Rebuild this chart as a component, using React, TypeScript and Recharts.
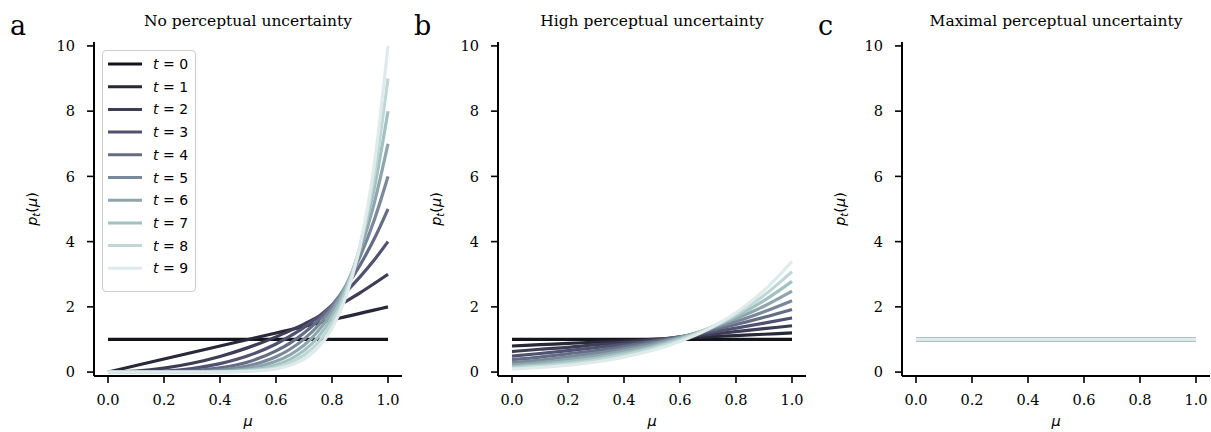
import React from 'react';
import { LineChart, Line, XAxis, YAxis, Legend } from 'recharts';

// ---------- data ----------
const tLabels = ['t = 0', 't = 1', 't = 2', 't = 3', 't = 4', 't = 5', 't = 6', 't = 7', 't = 8', 't = 9'];
const lineColors = ['#14141c', '#282838', '#3d3d55', '#515171', '#656d85', '#7a899a', '#8ea5ae', '#a2c2c2', '#bfd7d6', '#dfebeb'];

const panelTitles = ['No perceptual uncertainty', 'High perceptual uncertainty', 'Maximal perceptual uncertainty'];
const panelLetters = ['a', 'b', 'c'];
const xTicks = [0, 0.2, 0.4, 0.6, 0.8, 1.0];
const yTicks = [0, 2, 4, 6, 8, 10];

// panel a: no perceptual uncertainty
const muA = [0, 0.1, 0.2, 0.3, 0.4, 0.5, 0.6, 0.65, 0.7, 0.75, 0.8, 0.85, 0.9, 0.95, 1.0];
const noUncertainty: number[][] = [
  [1, 1, 1, 1, 1, 1, 1, 1, 1, 1, 1, 1, 1, 1, 1],
  [0, 0.2, 0.4, 0.6, 0.8, 1.0, 1.2, 1.3, 1.4, 1.5, 1.6, 1.7, 1.8, 1.9, 2.0],
  [0, 0.03, 0.12, 0.27, 0.48, 0.75, 1.08, 1.27, 1.47, 1.69, 1.92, 2.17, 2.43, 2.71, 3.0],
  [0, 0.004, 0.03, 0.11, 0.26, 0.5, 0.86, 1.1, 1.37, 1.69, 2.05, 2.46, 2.92, 3.43, 4.0],
  [0, 0, 0.01, 0.04, 0.13, 0.31, 0.65, 0.89, 1.2, 1.58, 2.05, 2.61, 3.28, 4.07, 5.0],
  [0, 0, 0, 0.01, 0.06, 0.19, 0.47, 0.7, 1.01, 1.42, 1.97, 2.66, 3.54, 4.64, 6.0],
  [0, 0, 0, 0.005, 0.03, 0.11, 0.33, 0.53, 0.82, 1.25, 1.84, 2.64, 3.72, 5.15, 7.0],
  [0, 0, 0, 0, 0.01, 0.06, 0.22, 0.39, 0.66, 1.07, 1.68, 2.56, 3.83, 5.59, 8.0],
  [0, 0, 0, 0, 0.01, 0.04, 0.15, 0.29, 0.52, 0.9, 1.51, 2.45, 3.87, 5.97, 9.0],
  [0, 0, 0, 0, 0, 0.02, 0.1, 0.21, 0.4, 0.75, 1.34, 2.32, 3.87, 6.3, 10.0],
];

// panel b: high perceptual uncertainty
const muB = [0, 0.1, 0.2, 0.3, 0.4, 0.5, 0.6, 0.7, 0.8, 0.9, 1.0];
const highUncertainty: number[][] = [
  [1, 1, 1, 1, 1, 1, 1, 1, 1, 1, 1],
  [0.8, 0.84, 0.88, 0.92, 0.96, 1.0, 1.04, 1.08, 1.12, 1.16, 1.2],
  [0.63, 0.7, 0.76, 0.84, 0.91, 0.99, 1.07, 1.15, 1.24, 1.33, 1.42],
  [0.49, 0.57, 0.66, 0.75, 0.85, 0.96, 1.08, 1.21, 1.35, 1.5, 1.66],
  [0.38, 0.46, 0.56, 0.66, 0.79, 0.93, 1.08, 1.26, 1.46, 1.68, 1.92],
  [0.29, 0.37, 0.47, 0.58, 0.72, 0.88, 1.07, 1.3, 1.55, 1.85, 2.19],
  [0.22, 0.29, 0.39, 0.5, 0.65, 0.83, 1.05, 1.32, 1.64, 2.02, 2.48],
  [0.16, 0.23, 0.32, 0.43, 0.58, 0.77, 1.02, 1.33, 1.71, 2.19, 2.78],
  [0.12, 0.18, 0.26, 0.37, 0.52, 0.72, 0.98, 1.33, 1.77, 2.35, 3.08],
  [0.09, 0.14, 0.21, 0.31, 0.46, 0.66, 0.94, 1.31, 1.82, 2.5, 3.39],
];

// panel c: maximal perceptual uncertainty (flat band around 1)
const muC = [0, 0.5, 1.0];
const maximalUncertainty: number[][] = [
  [1, 1, 1], [1, 1, 1], [1, 1, 1], [1, 1, 1], [1, 1, 1],
  [1.03, 1.03, 1.03], [0.97, 0.97, 0.97], [1.02, 1.02, 1.02], [0.99, 0.99, 0.99], [1, 1, 1],
];

// ---------- layout ----------
const PANEL_W = 403;
const H = 432;
const PLOT_TOP = 42;
const YAXIS_W = 94;
const FONT_SERIF = 'DejaVu Serif';
const FONT_SANS = 'DejaVu Sans';
const TICK_FS = 14.5;

function buildRows(mu: number[], series: number[][]) {
  return mu.map((m, i) => {
    const row: Record<string, number> = { mu: m };
    series.forEach((s, t) => {
      row['t' + t] = s[i];
    });
    return row;
  });
}

const renderLegend = (props: any) => {
  const payload: any[] = (props && props.payload) || [];
  const items = tLabels.map((lab, i) => {
    const p = payload.find((q) => q.value === lab);
    return { label: lab, color: p ? p.color : lineColors[i] };
  });
  return (
    <div
      style={{
        width: 94,
        height: 242,
        boxSizing: 'border-box',
        border: '1px solid #cccccc',
        borderRadius: 4,
        background: 'rgba(255,255,255,0.8)',
        position: 'relative',
      }}
    >
      <svg width={94} height={242} style={{ position: 'absolute', left: -1, top: -1 }}>
        {items.map((it, i) => {
          const y = 14 + i * 22.7;
          const rest = it.label.slice(1);
          return (
            <g key={it.label}>
              <line x1={6} x2={40} y1={y} y2={y} stroke={it.color} strokeWidth={3} />
              <text x={51} y={y} dy="0.36em" fontFamily={FONT_SANS} fontSize={14} fill="#000">
                <tspan fontStyle="italic">t</tspan>
                {rest}
              </text>
            </g>
          );
        })}
      </svg>
    </div>
  );
};

function Panel({ left, mu, series, showLegend }: { left: number; mu: number[]; series: number[][]; showLegend: boolean }) {
  const data = buildRows(mu, series);
  return (
    <div style={{ position: 'absolute', left, top: 0 }}>
      <LineChart width={PANEL_W} height={H} data={data} margin={{ top: PLOT_TOP, right: 1, bottom: 0, left: 0 }}>
        <XAxis
          dataKey="mu"
          type="number"
          domain={[-0.05, 1.05]}
          ticks={xTicks}
          allowDataOverflow
          tickFormatter={(v: number) => v.toFixed(1)}
          height={56}
          axisLine={{ stroke: '#000', strokeWidth: 2 }}
          tickLine={{ stroke: '#000', strokeWidth: 1.6 }}
          tickSize={7}
          tickMargin={12}
          tick={{ fill: '#000', fontSize: TICK_FS, fontFamily: FONT_SERIF }}
        />
        <YAxis
          type="number"
          domain={[-0.12, 10.12]}
          ticks={yTicks}
          allowDataOverflow
          width={YAXIS_W}
          axisLine={{ stroke: '#000', strokeWidth: 2 }}
          tickLine={{ stroke: '#000', strokeWidth: 1.6 }}
          tickSize={7}
          tickMargin={12}
          tick={{ fill: '#000', fontSize: TICK_FS, fontFamily: FONT_SERIF }}
        />
        {series.map((_, t) => (
          <Line
            key={t}
            dataKey={'t' + t}
            name={tLabels[t]}
            stroke={lineColors[t]}
            strokeWidth={3.2}
            dot={false}
            activeDot={false}
            type="monotone"
            isAnimationActive={false}
          />
        ))}
        {showLegend && (
          <Legend
            layout="vertical"
            align="center"
            verticalAlign="middle"
            wrapperStyle={{ left: 102, top: 50, width: 94, height: 242 }}
            content={renderLegend}
          />
        )}
      </LineChart>
    </div>
  );
}

export default function App() {
  const panels = [
    { mu: muA, series: noUncertainty },
    { mu: muB, series: highUncertainty },
    { mu: muC, series: maximalUncertainty },
  ];
  return (
    <div style={{ position: 'absolute', left: 0, top: 0, width: 1211, height: H, background: '#fff', overflow: 'hidden' }}>
      {panels.map((p, i) => (
        <Panel key={i} left={i * 404} mu={p.mu} series={p.series} showLegend={i === 0} />
      ))}
      <svg width={1211} height={H} style={{ position: 'absolute', left: 0, top: 0, pointerEvents: 'none' }}>
        {panels.map((_, i) => {
          const off = i * 404;
          const cx = off + YAXIS_W + 154;
          return (
            <g key={i}>
              <text x={off + 10} y={35} fontFamily={FONT_SERIF} fontSize={27} fill="#000">
                {panelLetters[i]}
              </text>
              <text x={cx} y={26} textAnchor="middle" fontFamily={FONT_SERIF} fontSize={15.5} fill="#000">
                {panelTitles[i]}
              </text>
              <text x={cx} y={426} textAnchor="middle" fontFamily={FONT_SANS} fontStyle="italic" fontSize={14.5} fill="#000">
                μ
              </text>
              <text
                transform={`translate(${off + 37}, 209) rotate(-90)`}
                textAnchor="middle"
                fontFamily={FONT_SANS}
                fontSize={14.5}
                fill="#000"
              >
                <tspan fontStyle="italic">p</tspan>
                <tspan fontStyle="italic" fontSize={10} dy={3}>t</tspan>
                <tspan dy={-3}>(</tspan>
                <tspan fontStyle="italic">μ</tspan>
                <tspan>)</tspan>
              </text>
            </g>
          );
        })}
      </svg>
    </div>
  );
}
